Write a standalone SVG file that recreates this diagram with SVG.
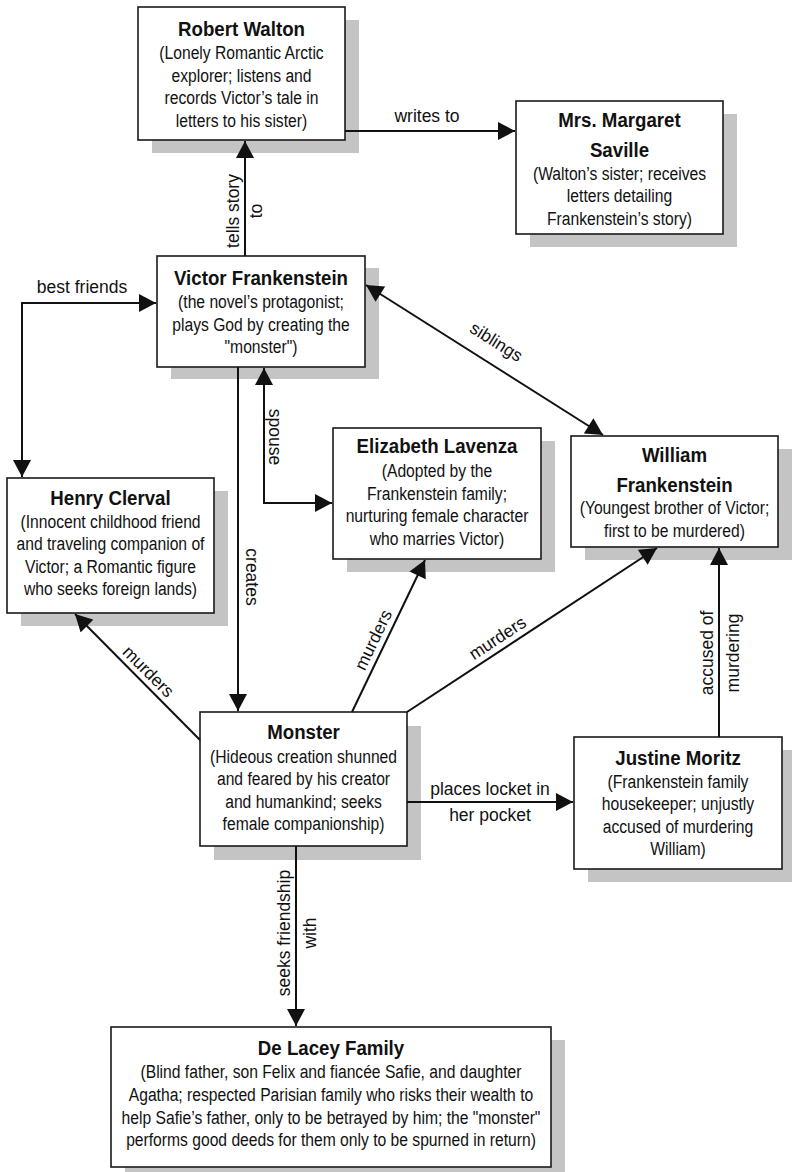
<svg xmlns="http://www.w3.org/2000/svg" width="792" height="1172" viewBox="0 0 792 1172">
<defs>
<style>
.shadow{fill:#c4c4c4;stroke:none}
.box{fill:#fff;stroke:#1a1a1a;stroke-width:1.6}
text{font-family:"Liberation Sans",Arial,sans-serif;fill:#111;text-anchor:middle}
.t{font-size:21px;font-weight:bold}
.b{font-size:18px}
.l{font-size:17.5px}
.c{fill:none;stroke:#111;stroke-width:2}
</style>
<marker id="arr" markerUnits="userSpaceOnUse" markerWidth="18" markerHeight="18" viewBox="0 0 17 18" refX="17" refY="9" orient="auto-start-reverse">
<path d="M0,0 L17,9 L0,18 z" fill="#111"/>
</marker>
</defs>
<rect width="792" height="1172" fill="#fff"/>

<g id="walton">
<rect class="shadow" x="152" y="20" width="207" height="133"/>
<rect class="box" x="138" y="7" width="207" height="133"/>
<g transform="translate(241.5,0) scale(0.89,1)"><text class="t" x="0" y="36">Robert Walton</text></g>
<g transform="translate(241.5,0) scale(0.87,1)">
<text class="b" x="0" y="59">(Lonely Romantic Arctic</text>
<text class="b" x="0" y="82">explorer; listens and</text>
<text class="b" x="0" y="104">records Victor’s tale in</text>
<text class="b" x="0" y="127">letters to his sister)</text>
</g>
</g>

<g id="saville">
<rect class="shadow" x="530" y="114" width="207" height="133"/>
<rect class="box" x="516" y="101" width="207" height="133"/>
<g transform="translate(619.5,0) scale(0.89,1)">
<text class="t" x="0" y="127">Mrs. Margaret</text>
<text class="t" x="0" y="157">Saville</text>
</g>
<g transform="translate(619.5,0) scale(0.87,1)">
<text class="b" x="0" y="180">(Walton’s sister; receives</text>
<text class="b" x="0" y="202">letters detailing</text>
<text class="b" x="0" y="225">Frankenstein’s story)</text>
</g>
</g>

<g id="victor">
<rect class="shadow" x="171" y="268" width="208" height="111"/>
<rect class="box" x="157" y="256" width="208" height="111"/>
<g transform="translate(261,0) scale(0.89,1)"><text class="t" x="0" y="285">Victor Frankenstein</text></g>
<g transform="translate(261,0) scale(0.87,1)">
<text class="b" x="0" y="308">(the novel’s protagonist;</text>
<text class="b" x="0" y="331">plays God by creating the</text>
<text class="b" x="0" y="353">"monster")</text>
</g>
</g>

<g id="elizabeth">
<rect class="shadow" x="347" y="441" width="208" height="131"/>
<rect class="box" x="333" y="428" width="208" height="131"/>
<g transform="translate(437,0) scale(0.89,1)"><text class="t" x="0" y="453">Elizabeth Lavenza</text></g>
<g transform="translate(437,0) scale(0.87,1)">
<text class="b" x="0" y="477">(Adopted by the</text>
<text class="b" x="0" y="500">Frankenstein family;</text>
<text class="b" x="0" y="522">nurturing female character</text>
<text class="b" x="0" y="545">who marries Victor)</text>
</g>
</g>

<g id="william">
<rect class="shadow" x="585" y="449" width="207" height="111"/>
<rect class="box" x="571" y="436" width="207" height="111"/>
<g transform="translate(674.5,0) scale(0.89,1)">
<text class="t" x="0" y="462">William</text>
<text class="t" x="0" y="492">Frankenstein</text>
</g>
<g transform="translate(674.5,0) scale(0.87,1)">
<text class="b" x="0" y="514">(Youngest brother of Victor;</text>
<text class="b" x="0" y="537">first to be murdered)</text>
</g>
</g>

<g id="henry">
<rect class="shadow" x="21" y="491" width="207" height="135"/>
<rect class="box" x="7" y="478" width="207" height="135"/>
<g transform="translate(110.5,0) scale(0.89,1)"><text class="t" x="0" y="505">Henry Clerval</text></g>
<g transform="translate(110.5,0) scale(0.87,1)">
<text class="b" x="0" y="528">(Innocent childhood friend</text>
<text class="b" x="0" y="550">and traveling companion of</text>
<text class="b" x="0" y="573">Victor; a Romantic figure</text>
<text class="b" x="0" y="595">who seeks foreign lands)</text>
</g>
</g>

<g id="monster">
<rect class="shadow" x="214" y="726" width="207" height="134"/>
<rect class="box" x="200" y="712" width="207" height="134"/>
<g transform="translate(303.5,0) scale(0.89,1)"><text class="t" x="0" y="739">Monster</text></g>
<g transform="translate(303.5,0) scale(0.87,1)">
<text class="b" x="0" y="763">(Hideous creation shunned</text>
<text class="b" x="0" y="785">and feared by his creator</text>
<text class="b" x="0" y="808">and humankind; seeks</text>
<text class="b" x="0" y="830">female companionship)</text>
</g>
</g>

<g id="justine">
<rect class="shadow" x="588" y="750" width="208" height="132"/>
<rect class="box" x="574" y="737" width="208" height="132"/>
<g transform="translate(678,0) scale(0.89,1)"><text class="t" x="0" y="765">Justine Moritz</text></g>
<g transform="translate(678,0) scale(0.87,1)">
<text class="b" x="0" y="788">(Frankenstein family</text>
<text class="b" x="0" y="810">housekeeper; unjustly</text>
<text class="b" x="0" y="833">accused of murdering</text>
<text class="b" x="0" y="855">William)</text>
</g>
</g>

<g id="delacey">
<rect class="shadow" x="125" y="1040" width="440" height="140"/>
<rect class="box" x="111" y="1027" width="440" height="140"/>
<g transform="translate(331,0) scale(0.89,1)"><text class="t" x="0" y="1055">De Lacey Family</text></g>
<g transform="translate(331,0) scale(0.87,1)">
<text class="b" x="0" y="1078">(Blind father, son Felix and fiancée Safie, and daughter</text>
<text class="b" x="0" y="1101">Agatha; respected Parisian family who risks their wealth to</text>
<text class="b" x="0" y="1124">help Safie’s father, only to be betrayed by him; the "monster"</text>
<text class="b" x="0" y="1146">performs good deeds for them only to be spurned in return)</text>
</g>
</g>

<g id="connectors">
<line class="c" x1="245" y1="256" x2="245" y2="141" marker-end="url(#arr)"/>
<line class="c" x1="345" y1="131" x2="515" y2="131" marker-end="url(#arr)"/>
<path class="c" d="M156,303 H22 V477" marker-start="url(#arr)" marker-end="url(#arr)"/>
<line class="c" x1="366" y1="285" x2="603" y2="435" marker-start="url(#arr)" marker-end="url(#arr)"/>
<line class="c" x1="238" y1="367" x2="238" y2="711" marker-end="url(#arr)"/>
<path class="c" d="M264,368 V503 H332" marker-start="url(#arr)" marker-end="url(#arr)"/>
<line class="c" x1="200" y1="740" x2="75" y2="614" marker-end="url(#arr)"/>
<line class="c" x1="352" y1="712" x2="425" y2="560" marker-end="url(#arr)"/>
<line class="c" x1="407" y1="712" x2="657" y2="548" marker-end="url(#arr)"/>
<line class="c" x1="407" y1="802" x2="573" y2="802" marker-end="url(#arr)"/>
<line class="c" x1="719" y1="737" x2="719" y2="548" marker-end="url(#arr)"/>
<line class="c" x1="296" y1="846" x2="296" y2="1026" marker-end="url(#arr)"/>

<text class="l" transform="translate(245,211) rotate(-90)"><tspan x="0" y="-6">tells story</tspan><tspan x="0" y="17">to</tspan></text>
<text class="l" x="427" y="122">writes to</text>
<text class="l" x="82" y="293">best friends</text>
<text class="l" transform="translate(490,352) rotate(32.3)" x="0" y="-6">siblings</text>
<text class="l" transform="translate(238,577) rotate(90)" x="0" y="-8">creates</text>
<text class="l" transform="translate(264,437) rotate(90)" x="0" y="-5">spouse</text>
<text class="l" transform="translate(140,680) rotate(45)" x="0" y="-6">murders</text>
<text class="l" transform="translate(384,645) rotate(-64.5)" x="0" y="-6">murders</text>
<text class="l" transform="translate(504,648) rotate(-33.3)" x="0" y="-6">murders</text>
<text class="l" x="490" y="795">places locket in</text>
<text class="l" x="490" y="821">her pocket</text>
<text class="l" transform="translate(719,653) rotate(-90)"><tspan x="0" y="-6">accused of</tspan><tspan x="0" y="20">murdering</tspan></text>
<text class="l" transform="translate(296,933) rotate(-90)"><tspan x="0" y="-6">seeks friendship</tspan><tspan x="0" y="20">with</tspan></text>
</g>
</svg>
